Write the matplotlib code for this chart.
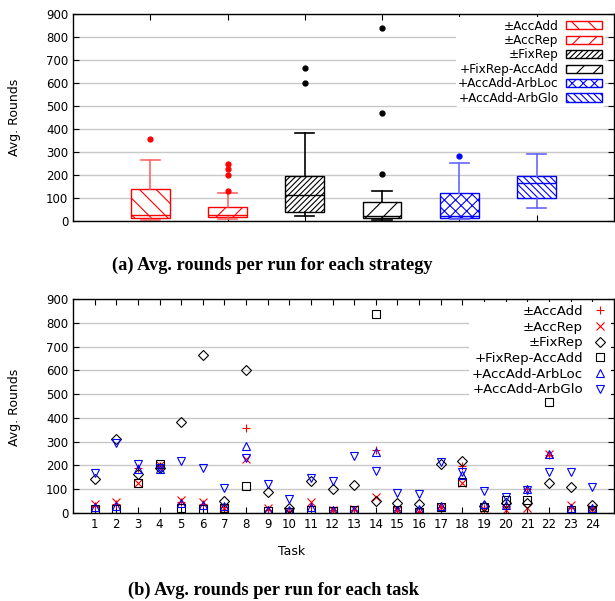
import numpy as np
import matplotlib.pyplot as plt
from matplotlib.patches import Patch
from matplotlib.lines import Line2D

# Strategies (box plot, top panel)
strategies = ["\u00b1AccAdd", "\u00b1AccRep", "\u00b1FixRep",
              "+FixRep-AccAdd", "+AccAdd-ArbLoc", "+AccAdd-ArbGlo"]
box_q1 = [14, 16, 38, 12, 13, 101]
box_med = [26, 25, 113, 20, 22, 167]
box_q3 = [139, 61, 194, 83, 120, 197]
box_lo = [5, 7, 22, 6, 7, 57]
box_hi = [264, 123, 384, 129, 252, 293]
box_fliers = [[358], [131, 201, 227, 246], [601, 665], [204, 470, 839], [281], []]

# Avg. rounds per task (scatter, bottom panel)
tasks = list(range(1, 25))
acc_add = [30, 35, 188, 195, 45, 38, 25, 358, 12, 8, 30, 10, 12, 265, 10, 5, 25, 195, 20, 28, 100, 245, 20, 18]
acc_rep = [38, 44, 127, 200, 54, 45, 18, 227, 18, 5, 44, 12, 15, 68, 12, 5, 25, 127, 15, 10, 18, 246, 32, 15]
fix_rep = [143, 311, 165, 190, 384, 665, 50, 601, 87, 20, 134, 99, 117, 48, 42, 37, 205, 218, 28, 40, 40, 124, 110, 32]
fix_rep_acc_add = [15, 15, 127, 207, 18, 15, 20, 113, 8, 5, 12, 8, 10, 838, 10, 5, 22, 130, 25, 55, 53, 468, 12, 10]
arb_loc = [25, 28, 185, 183, 42, 33, 28, 283, 12, 10, 25, 10, 12, 255, 12, 15, 28, 157, 35, 32, 100, 246, 18, 18]
arb_glo = [166, 294, 207, 187, 219, 187, 106, 232, 122, 58, 148, 134, 238, 177, 82, 79, 215, 170, 92, 67, 97, 172, 172, 108]

edge_cols = ["#ff0000", "#ff0000", "#000000", "#000000", "#0000ff", "#0000ff"]
whisk_cols = ["#ff6666", "#ff6666", "#000000", "#000000", "#6666ff", "#6666ff"]
hatches = ["\\\\", "//", "//////", "//", "xxx", "\\\\\\\\\\"]

plt.rcParams["font.family"] = "DejaVu Sans"
plt.rcParams["hatch.linewidth"] = 0.8
tick_fs = 8.5

fig = plt.figure(figsize=(6.15, 6.01), dpi=100)
ax1 = fig.add_axes([0.1187, 0.6323, 0.8793, 0.3444])
ax2 = fig.add_axes([0.1187, 0.1469, 0.8793, 0.3551])


def style_axes(ax):
    ax.set_ylim(0, 900)
    ax.set_yticks(range(0, 901, 100))
    ax.yaxis.grid(True, color="#c8c8c8", linewidth=1.0)
    ax.set_axisbelow(True)
    ax.tick_params(direction="in", top=True, right=True, length=4,
                   labelsize=tick_fs, width=0.8)
    for s in ax.spines.values():
        s.set_linewidth(1.0)


# --- top: box plot ---
stats = []
for i in range(len(strategies)):
    stats.append(dict(q1=box_q1[i], med=box_med[i], q3=box_q3[i],
                      whislo=box_lo[i], whishi=box_hi[i],
                      fliers=box_fliers[i], label=strategies[i]))
bp = ax1.bxp(stats, positions=range(1, 7), widths=0.5, patch_artist=True,
             showfliers=True, manage_ticks=False)
for i, box in enumerate(bp["boxes"]):
    box.set_facecolor("white")
    box.set_edgecolor(edge_cols[i])
    box.set_hatch(hatches[i])
    box.set_linewidth(1.0)
    bp["medians"][i].set(color=edge_cols[i], linewidth=1.0)
    for w in bp["whiskers"][2 * i:2 * i + 2]:
        w.set(color=whisk_cols[i], linewidth=1.2)
    for c in bp["caps"][2 * i:2 * i + 2]:
        c.set(color=whisk_cols[i], linewidth=1.2)
    bp["fliers"][i].set(marker="o", markersize=3.5, markerfacecolor=edge_cols[i],
                         markeredgecolor=edge_cols[i], linestyle="none")
ax1.set_xlim(0, 7)
ax1.set_xticks(range(1, 7))
ax1.set_xticklabels([])
style_axes(ax1)

handles1 = [Patch(facecolor="white", edgecolor=edge_cols[i], hatch=hatches[i],
                  label=strategies[i]) for i in range(6)]
leg1 = ax1.legend(handles=handles1, loc="upper right", bbox_to_anchor=(0.983, 0.985),
                  markerfirst=False, frameon=True, fontsize=8.7,
                  handlelength=3.0, handleheight=0.65, labelspacing=0.12,
                  handletextpad=0.6, borderpad=0.2, borderaxespad=0.0)
leg1.get_frame().set_edgecolor("none")
leg1.get_frame().set_facecolor("white")
leg1.get_frame().set_alpha(1.0)
leg1.set_zorder(1.5)

# --- bottom: scatter per task ---
series = [acc_add, acc_rep, fix_rep, fix_rep_acc_add, arb_loc, arb_glo]
markers = ["+", "x", "D", "s", "^", "v"]
m_cols = ["#ff0000", "#ff0000", "#000000", "#000000", "#0000ff", "#0000ff"]
m_sizes = [6.0, 5.5, 4.6, 5.8, 5.8, 5.8]
for vals, m, c, ms, lab in zip(series, markers, m_cols, m_sizes, strategies):
    ax2.plot(tasks, vals, linestyle="none", marker=m, markersize=ms,
             markerfacecolor="none", markeredgecolor=c, markeredgewidth=0.8,
             label=lab, zorder=2)
ax2.set_xlim(0, 25)
ax2.set_xticks(tasks)
style_axes(ax2)
ax2.set_xlabel("Task", fontsize=9, labelpad=4)
ax2.xaxis.set_label_coords(0.404, -0.15)
leg2 = ax2.legend(loc="upper right", bbox_to_anchor=(0.995, 0.985), markerfirst=False,
                  frameon=True, fontsize=9.6, handlelength=1.2,
                  labelspacing=0.2, handletextpad=0.7, borderpad=0.2,
                  borderaxespad=0.0)
leg2.get_frame().set_edgecolor("none")
leg2.get_frame().set_facecolor("white")
leg2.get_frame().set_alpha(1.0)
leg2.set_zorder(1.5)

fig.text(0.024, 0.804, "Avg. Rounds", rotation=90, ha="center", va="center", fontsize=9)
fig.text(0.024, 0.323, "Avg. Rounds", rotation=90, ha="center", va="center", fontsize=9)

fig.text(0.443, 0.559, "(a) Avg. rounds per run for each strategy", ha="center",
         va="center", fontsize=13.2, fontweight="bold", family="Liberation Serif")
fig.text(0.444, 0.018, "(b) Avg. rounds per run for each task", ha="center",
         va="center", fontsize=13.2, fontweight="bold", family="Liberation Serif")

fig.savefig("out.png", dpi=100)
